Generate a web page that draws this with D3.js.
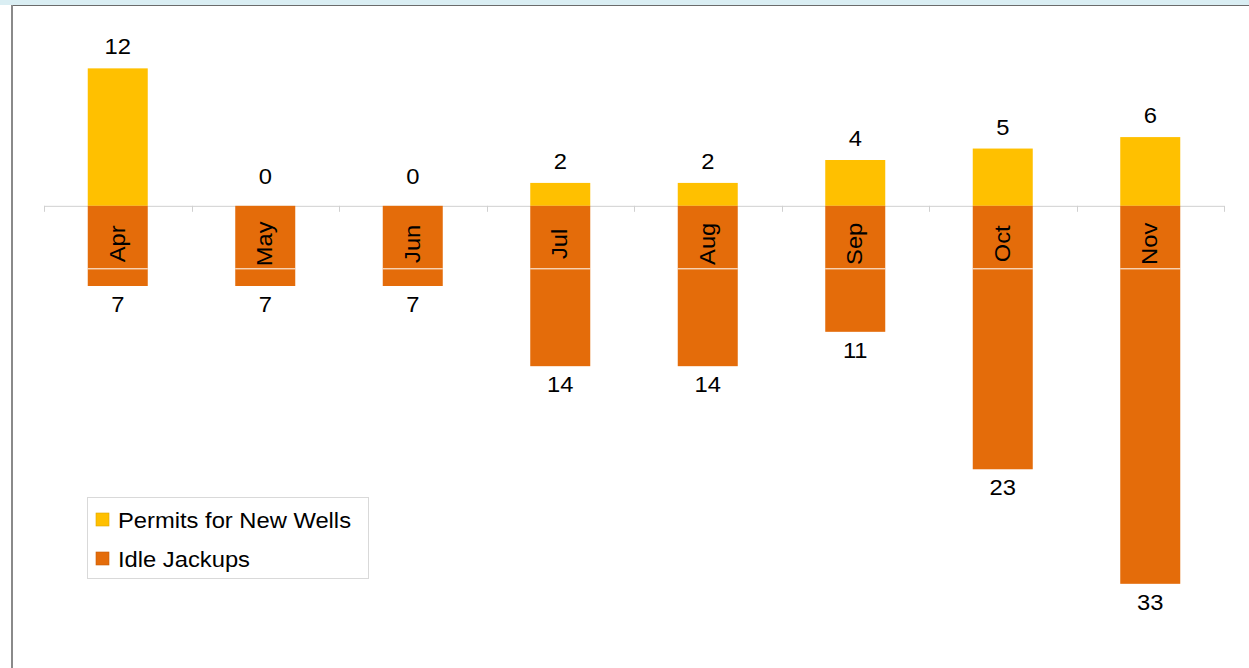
<!DOCTYPE html>
<html>
<head>
<meta charset="utf-8">
<script src="https://cdn.jsdelivr.net/npm/d3@7"></script>
<style>
  html, body { margin: 0; padding: 0; background: #fff; }
  svg { display: block; font-family: "Liberation Sans", Arial, sans-serif; }
</style>
</head>
<body>
<svg id="chart" width="1249" height="668"></svg>
<script>
// Monthly counts: new well permits (up) vs idle jackups (down)
const months = ["Apr", "May", "Jun", "Jul", "Aug", "Sep", "Oct", "Nov"];
const permits = [12, 0, 0, 2, 2, 4, 5, 6];
const idleJackups = [7, 7, 7, 14, 14, 11, 23, 33];
const seriesNames = ["Permits for New Wells", "Idle Jackups"];
const seriesColors = ["#FFC000", "#E46C0A"];

const W = 1249, H = 668;
const FS = 22;          // label font size
const STRETCH = 1.08;   // slightly wide glyph rendering
const svg = d3.select("#chart");

// frame
svg.append("rect").attr("x", 0).attr("y", 0).attr("width", W).attr("height", 5).attr("fill", "#DAEEF3");
svg.append("line").attr("x1", 12).attr("x2", W).attr("y1", 5.5).attr("y2", 5.5).attr("stroke", "#6b6b6b").attr("stroke-width", 1.2);
svg.append("line").attr("x1", 12).attr("x2", 12).attr("y1", 5).attr("y2", H).attr("stroke", "#8a8a8a").attr("stroke-width", 2);

const x = d3.scaleBand().domain(months).range([44, 1224]).paddingInner(0).paddingOuter(0);
const y = d3.scaleLinear().domain([-40, 15]).range([664, 34]);
const barW = 60;
const cx = m => x(m) + x.bandwidth() / 2;

// zero axis with category boundary ticks
const axisG = svg.append("g");
axisG.append("line")
  .attr("x1", x.range()[0]).attr("x2", x.range()[1])
  .attr("y1", y(0) + 0.5).attr("y2", y(0) + 0.5)
  .attr("stroke", "#D0D0D0").attr("stroke-width", 1);
const bounds = months.map(m => x(m)).concat([x.range()[1]]);
axisG.selectAll("line.tick").data(bounds).join("line")
  .attr("class", "tick")
  .attr("x1", d => Math.round(d) + 0.5).attr("x2", d => Math.round(d) + 0.5)
  .attr("y1", y(0)).attr("y2", y(0) + 6)
  .attr("stroke", "#D0D0D0");

// permit bars (upward)
svg.selectAll("rect.permit").data(months).join("rect")
  .attr("class", "permit")
  .attr("x", m => cx(m) - barW / 2)
  .attr("width", barW)
  .attr("y", (m, i) => y(permits[i]))
  .attr("height", (m, i) => y(0) - y(permits[i]))
  .attr("fill", seriesColors[0]);

// idle jackup bars (downward)
svg.selectAll("rect.idle").data(months).join("rect")
  .attr("class", "idle")
  .attr("x", m => cx(m) - barW / 2)
  .attr("width", barW)
  .attr("y", y(0))
  .attr("height", (m, i) => y(-idleJackups[i]) - y(0))
  .attr("fill", seriesColors[1]);

// thin white rule through the lower bars
svg.selectAll("line.rule").data(months).join("line")
  .attr("class", "rule")
  .attr("x1", m => cx(m) - barW / 2).attr("x2", m => cx(m) + barW / 2)
  .attr("y1", y(-5.5)).attr("y2", y(-5.5))
  .attr("stroke", "#fff").attr("stroke-width", 1);

// category labels, rotated inside the lower bars
svg.selectAll("text.cat").data(months).join("text")
  .attr("class", "cat")
  .attr("transform", m => `translate(${cx(m) + 7},${y(0) + 38}) rotate(-90) scale(${STRETCH},1)`)
  .attr("text-anchor", "middle")
  .attr("font-size", FS)
  .attr("fill", "#000")
  .text(m => m);

// value labels; small bars keep their label clear of the axis
const permitLabelY = v => Math.min(y(v) - 14, y(0) - 22);
svg.selectAll("text.pv").data(months).join("text")
  .attr("class", "pv")
  .attr("transform", (m, i) => `translate(${cx(m)},${permitLabelY(permits[i])}) scale(${STRETCH},1)`)
  .attr("text-anchor", "middle")
  .attr("font-size", FS)
  .text((m, i) => permits[i]);

svg.selectAll("text.iv").data(months).join("text")
  .attr("class", "iv")
  .attr("transform", (m, i) => `translate(${cx(m)},${y(-idleJackups[i]) + 26}) scale(${STRETCH},1)`)
  .attr("text-anchor", "middle")
  .attr("font-size", FS)
  .text((m, i) => idleJackups[i]);

// legend
const lg = svg.append("g").attr("transform", "translate(87,497)");
lg.append("rect").attr("x", 0.5).attr("y", 0.5).attr("width", 281).attr("height", 81)
  .attr("fill", "#fff").attr("stroke", "#D9D9D9");
seriesNames.forEach((name, i) => {
  const row = lg.append("g").attr("transform", `translate(9,${22.5 + i * 39})`);
  row.append("rect").attr("x", 0).attr("y", -6.5).attr("width", 13).attr("height", 13)
    .attr("fill", seriesColors[i]).attr("stroke", d3.color(seriesColors[i]).darker(0.4)).attr("stroke-width", 0.6);
  row.append("text").attr("transform", `translate(22,8) scale(${STRETCH},1)`)
    .attr("font-size", FS).text(name);
});
</script>
</body>
</html>
